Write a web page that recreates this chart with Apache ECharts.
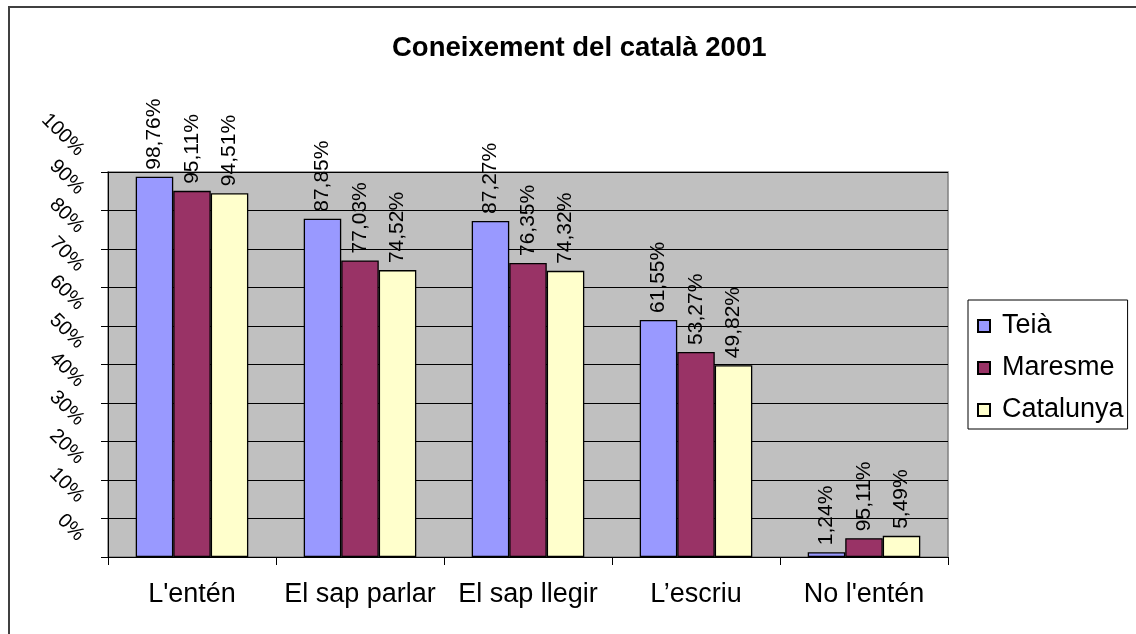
<!DOCTYPE html>
<html>
<head>
<meta charset="utf-8">
<script src="https://cdn.jsdelivr.net/npm/echarts@6/dist/echarts.min.js"></script>
<style>
  html, body { margin: 0; padding: 0; background: #fff; }
  #chart { width: 1136px; height: 634px; }
</style>
</head>
<body>
<div id="chart"></div>
<script>
// categories
const categories = ["L'entén", 'El sap parlar', 'El sap llegir', 'L’escriu', "No l'entén"];

// values (%)
const teia = [98.76, 87.85, 87.27, 61.55, 1.24];
const maresme = [95.11, 77.03, 76.35, 53.27, 4.89];
const catalunya = [94.51, 74.52, 74.32, 49.82, 5.49];

// labels as printed on the original (the last Maresme one reads 95,11%)
const teiaLabels = ['98,76%', '87,85%', '87,27%', '61,55%', '1,24%'];
const maresmeLabels = ['95,11%', '77,03%', '76,35%', '53,27%', '95,11%'];
const catalunyaLabels = ['94,51%', '74,52%', '74,32%', '49,82%', '5,49%'];

const yTicks = [0, 10, 20, 30, 40, 50, 60, 70, 80, 90, 100];

const FONT = "'Liberation Sans', Arial, sans-serif";

let chart = echarts.init(document.getElementById('chart'));

//一个系列
function makeSeries(name, values, labels, color) {
  return {
    name: name,
    type: 'bar',
    data: values,
    barGap: '0%',
    barCategoryGap: '33%',
    itemStyle: {color: color, borderColor: '#000', borderWidth: 1.3},
    label: {
      show: true,
      position: 'top',
      rotate: 90,
      align: 'left',
      verticalAlign: 'middle',
      distance: 7,
      color: '#000',
      fontFamily: FONT,
      fontSize: 21,
      formatter: p => labels[p.dataIndex]
    }
  };
}

chart.setOption({
  animation: false,
  title: {
    text: 'Coneixement del català 2001',
    left: 387,
    top: 29,
    textStyle: {fontFamily: FONT, fontSize: 27.5, fontWeight: 'bold', color: '#000'}
  },
  legend: {
    left: 968,
    top: 300,
    orient: 'vertical',
    icon: 'rect',
    itemWidth: 12,
    itemHeight: 12,
    itemGap: 10,
    padding: [10, 4, 3, 9],
    borderColor: '#000',
    borderWidth: 1,
    textStyle: {fontFamily: FONT, fontSize: 27, color: '#000', padding: [0, 0, 0, 7], lineHeight: 32},
    data: ['Teià', 'Maresme', 'Catalunya']
  },
  grid: {
    left: 108,
    right: 188,
    top: 172,
    bottom: 77,
    show: true,
    backgroundColor: '#C0C0C0',
    borderColor: '#808080',
    borderWidth: 1.5
  },
  xAxis: {
    type: 'category',
    data: categories,
    axisLine: {lineStyle: {color: '#000', width: 1}},
    axisTick: {show: true, length: 8, alignWithLabel: false, lineStyle: {color: '#000'}},
    axisLabel: {fontFamily: FONT, fontSize: 27, color: '#000', margin: 24, interval: 0}
  },
  yAxis: {
    type: 'value',
    min: 0,
    max: 100,
    interval: 10,
    axisLine: {show: true, lineStyle: {color: '#000', width: 1}},
    axisTick: {show: true, length: 7, lineStyle: {color: '#000'}},
    splitLine: {lineStyle: {color: '#000', width: 1}},
    axisLabel: {
      fontFamily: FONT,
      fontSize: 20,
      color: '#000',
      rotate: -45,
      margin: 8,
      padding: [0, 27, 0, 0],
      formatter: v => yTicks.indexOf(v) >= 0 ? v + '%' : ''
    }
  },
  graphic: [{
    type: 'rect',
    shape: {x: 9, y: 7, width: 1140, height: 640},
    style: {fill: 'none', stroke: '#404040', lineWidth: 2},
    silent: true
  }],
  series: [
    makeSeries('Teià', teia, teiaLabels, '#9999FF'),
    makeSeries('Maresme', maresme, maresmeLabels, '#993366'),
    makeSeries('Catalunya', catalunya, catalunyaLabels, '#FFFFCC')
  ]
});
</script>
</body>
</html>
